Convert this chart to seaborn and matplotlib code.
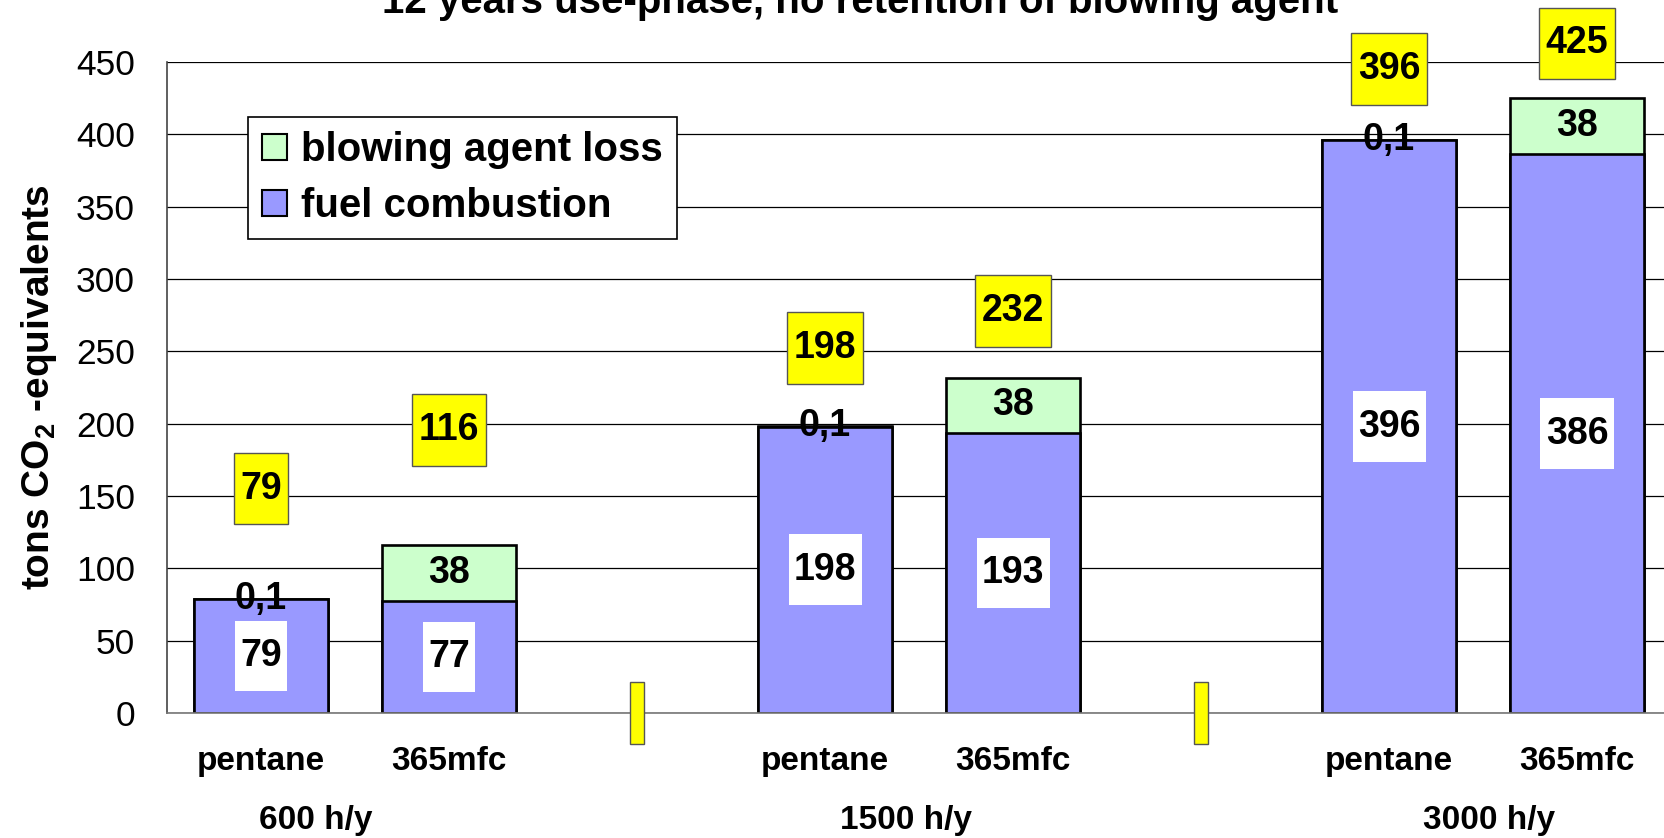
import numpy as np
import pandas as pd
import matplotlib
matplotlib.use("Agg")
import matplotlib.pyplot as plt
from matplotlib.patches import Patch
from matplotlib.transforms import blended_transform_factory
import seaborn as sns

# values
groups = ["600 h/y", "1500 h/y", "3000 h/y"]
agents = ["pentane", "365mfc"]
fuel = [79.0, 77.4, 198.0, 193.4, 396.0, 386.4]
blowing = [0.1, 38.4, 0.1, 38.4, 0.1, 38.4]

# label lift of the yellow total boxes above the bar tops (manual placement in original)
total_lift = [76, 80, 54, 46, 49, 38]

blue = "#9999FF"
green = "#CCFFCC"
yellow = "#FFFF00"

sns.set_style("white")
plt.rcParams["font.family"] = ["Liberation Sans", "DejaVu Sans"]
plt.rcParams["mathtext.fontset"] = "custom"
plt.rcParams["mathtext.rm"] = "Liberation Sans:bold"
for key in ["text.color", "axes.labelcolor", "xtick.color", "ytick.color"]:
    plt.rcParams[key] = "black"

# slot order: two bars per group, empty slot between groups
slot_order = []
rows = []
k = 0
for gi, g in enumerate(groups):
    for a in agents:
        name = g + " " + a
        slot_order.append(name)
        rows.append({"slot": name, "agent": a, "fuel": fuel[k], "blowing": blowing[k],
                     "total": fuel[k] + blowing[k]})
        k += 1
    if gi < len(groups) - 1:
        slot_order.append("gap%d" % gi)
df = pd.DataFrame(rows)

fig = plt.figure(figsize=(16.64, 8.38), dpi=100)
ax = fig.add_axes([167 / 1664, 1 - 713 / 838, 1504 / 1664, 651 / 838])

ax.set_axisbelow(True)
ax.yaxis.grid(True, color="black", lw=0.9)

sns.barplot(data=df, x="slot", y="total", order=slot_order, color=green, saturation=1,
            edgecolor="black", linewidth=1.9, width=0.715, errorbar=None, ax=ax)
sns.barplot(data=df, x="slot", y="fuel", order=slot_order, color=blue, saturation=1,
            edgecolor="black", linewidth=1.9, width=0.715, errorbar=None, ax=ax)

ax.set_ylim(0, 450)
ax.set_xlim(-0.5, len(slot_order) - 0.5)
ax.set_yticks(np.arange(0, 451, 50))
ax.tick_params(axis="y", labelsize=25.5, length=9, width=1, color="#555555", pad=14)

ax.set_xticks(np.arange(-0.5, len(slot_order), 1))
ax.set_xticklabels([])
ax.tick_params(axis="x", which="major", length=10, width=1, color="#777777")
xlabels = ["" if s.startswith("gap") else s.split(" ", 2)[-1] for s in slot_order]
ax.set_xticks(np.arange(len(slot_order)), minor=True)
ax.set_xticklabels(xlabels, minor=True, fontsize=24, fontweight="bold")
ax.tick_params(axis="x", which="minor", length=0, pad=24)
ax.set_xlabel("")

for side in ["top", "right"]:
    ax.spines[side].set_visible(False)
ax.spines["left"].set_color("#444444")
ax.spines["left"].set_linewidth(1.2)
ax.spines["bottom"].set_color("#777777")
ax.spines["bottom"].set_linewidth(1.2)

ax.set_ylabel("tons CO$_2$ -equivalents", fontsize=28, fontweight="bold")
ax.yaxis.set_label_coords(-0.072, 0.5)


def fmt(v):
    return ("%.1f" % v).replace(".", ",") if v < 1 else "%d" % round(v)


# data labels
for i, r in df.iterrows():
    x = slot_order.index(r["slot"])
    ax.text(x, r["fuel"] / 2, fmt(r["fuel"]), ha="center", va="center",
            fontsize=27, fontweight="bold",
            bbox=dict(boxstyle="square,pad=0.14", fc="white", ec="none", mutation_aspect=3.3))
    ax.text(x, r["fuel"] + r["blowing"] / 2, fmt(r["blowing"]), ha="center", va="center",
            fontsize=27, fontweight="bold")
    ax.text(x, r["total"] + total_lift[i], fmt(r["total"]), ha="center", va="center",
            fontsize=27, fontweight="bold",
            bbox=dict(boxstyle="square,pad=0.17", fc=yellow, ec="#555555", lw=1,
                      mutation_aspect=2.8))

# empty total boxes on the gap slots
for x, s in enumerate(slot_order):
    if s.startswith("gap"):
        ax.text(x, 0, " ", ha="center", va="center", fontsize=8,
                bbox=dict(boxstyle="square,pad=0.45", fc=yellow, ec="#555555", lw=1,
                          mutation_aspect=5.2))

# group labels under the categories
trans = blended_transform_factory(ax.transData, fig.transFigure)
for g, gx in zip(groups, [0.29, 3.43, 6.53]):
    ax.text(gx, 1 - 820 / 838, g, transform=trans, ha="center", va="center",
            fontsize=24, fontweight="bold")

handles = [Patch(fc=green, ec="black", lw=1.5), Patch(fc=blue, ec="black", lw=1.5)]
leg = ax.legend(handles, ["blowing agent loss", "fuel combustion"],
                loc="upper left", bbox_to_anchor=(248 / 1664, 1 - 117 / 838),
                bbox_transform=fig.transFigure, borderaxespad=0,
                prop={"weight": "bold", "size": 29}, frameon=True, fancybox=False,
                edgecolor="black", framealpha=1, handlelength=0.62, handleheight=0.62,
                handletextpad=0.35, labelspacing=0.45, borderpad=0.35)
leg.get_frame().set_linewidth(1.2)

fig.text(0.517, 1 - 13 / 838, "12 years use-phase, no retention of blowing agent",
         ha="center", va="baseline", fontsize=29, fontweight="bold")

fig.savefig("out.png", dpi=100)
